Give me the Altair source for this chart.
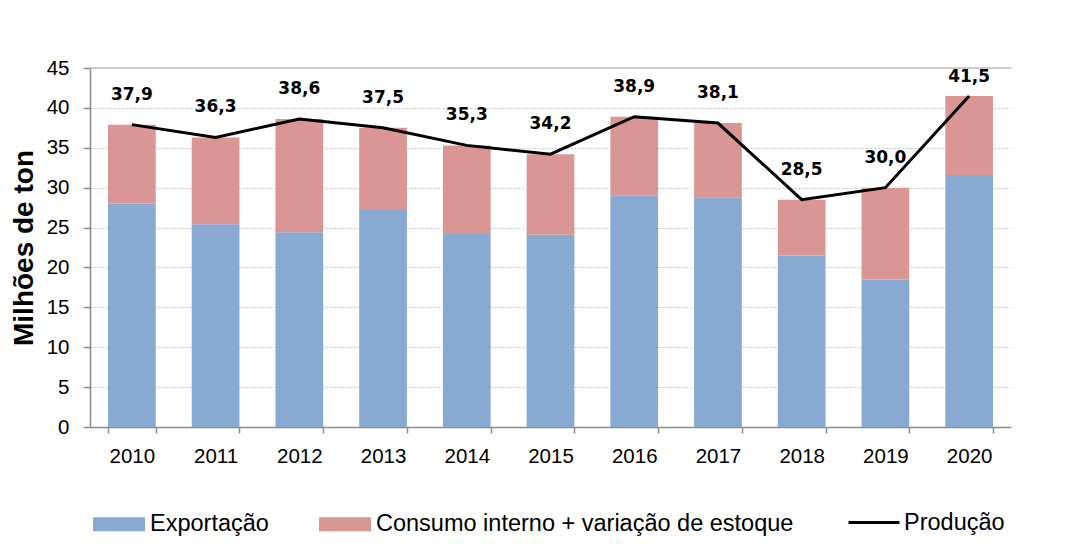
import altair as alt
import pandas as pd

anos = ["2010", "2011", "2012", "2013", "2014", "2015", "2016", "2017", "2018", "2019", "2020"]
exportacao = [28.0, 25.4, 24.4, 27.2, 24.2, 24.1, 29.0, 28.8, 21.5, 18.5, 31.6]
consumo = [9.9, 10.9, 14.2, 10.3, 11.1, 10.1, 9.9, 9.3, 7.0, 11.5, 9.9]
producao = [37.9, 36.3, 38.6, 37.5, 35.3, 34.2, 38.9, 38.1, 28.5, 30.0, 41.5]
series = ["Exportação", "Consumo interno + variação de estoque"]
serie_linha = "Produção"
y_ticks = [0, 5, 10, 15, 20, 25, 30, 35, 40, 45]
y_max = 45

rows = []
for i, a in enumerate(anos):
    rows.append({"ano": a, "serie": series[0], "valor": exportacao[i], "ordem": 0})
    rows.append({"ano": a, "serie": series[1], "valor": consumo[i], "ordem": 1})
bars_df = pd.DataFrame(rows)

line_df = pd.DataFrame({
    "ano": anos,
    "valor": producao,
    "serie_linha": [serie_linha] * len(anos),
    "rotulo": [f"{v:.1f}".replace(".", ",") for v in producao],
})

AX = "#8c8c8c"
FONT = "Liberation Sans"

x_enc = alt.X(
    "ano:N",
    sort=anos,
    scale=alt.Scale(paddingInner=0.43, paddingOuter=0.215),
    axis=alt.Axis(
        title=None, labelAngle=0, tickBand="extent", labelFont=FONT,
        labelFontSize=20.5, labelColor="#000000", labelPadding=13, tickSize=6,
        tickColor=AX, tickWidth=1.5, domainColor=AX, domainWidth=1.5, grid=False,
    ),
)

y_scale = alt.Scale(domain=[0, y_max], nice=False, zero=True)
y_axis = alt.Axis(
    values=y_ticks, tickCount=10, title="Milhões de ton", titleFont=FONT,
    titleFontSize=28, titleFontWeight="bold", titleColor="#000000",
    titlePadding=8, labelFont=FONT, labelFontSize=20.5, labelOverlap=False,
    labelColor="#000000", labelPadding=14, tickSize=7, tickColor=AX,
    tickWidth=1.5, domainColor=AX, domainWidth=1.5, grid=True,
    gridColor="#c4c4c4", gridDash=[2, 2], gridWidth=1,
)


def y_enc(stack=None):
    kw = {}
    if stack is not None:
        kw["stack"] = stack
    return alt.Y("valor:Q", scale=y_scale, axis=y_axis, title="Milhões de ton", **kw)


bars = alt.Chart(bars_df).mark_bar().encode(
    x=x_enc,
    y=y_enc("zero"),
    color=alt.Color(
        "serie:N",
        scale=alt.Scale(domain=series, range=["#88A9D1", "#D99694"]),
        legend=alt.Legend(
            title=None, orient="none", legendX=3, legendY=430,
            direction="horizontal",
            symbolType="M-1,-0.27L1,-0.27L1,0.27L-1,0.27Z",
            symbolSize=2704, symbolStrokeWidth=0, labelFont=FONT,
            labelFontSize=23.5, labelColor="#000000", labelOffset=5,
            columnPadding=50, labelLimit=700,
        ),
    ),
    order=alt.Order("ordem:Q", sort="ascending"),
)

top_rule = alt.Chart(pd.DataFrame({"k": [1]})).mark_rule(
    color="#bfbfbf", strokeWidth=1.5
).encode(y=alt.YDatum(y_max, type="quantitative", scale=y_scale, axis=y_axis, title="Milhões de ton"))

line = alt.Chart(line_df).mark_line(strokeWidth=3).encode(
    x=x_enc,
    y=y_enc(),
    stroke=alt.Stroke(
        "serie_linha:N",
        scale=alt.Scale(domain=[serie_linha], range=["#000000"]),
        legend=alt.Legend(
            title=None, orient="none", legendX=757, legendY=427.5,
            symbolType="stroke", symbolSize=2601, symbolStrokeWidth=3,
            labelFont=FONT, labelFontSize=23.5, labelColor="#000000",
            labelOffset=3, labelLimit=300,
        ),
    ),
)

labels = alt.Chart(line_df).mark_text(
    font="DejaVu Sans", fontSize=17, fontWeight="bold", color="#000000", dy=-30
).encode(x=x_enc, y=y_enc(), text="rotulo:N").transform_filter("datum.ano != '2020'")

label_last = alt.Chart(line_df).mark_text(
    font="DejaVu Sans", fontSize=17, fontWeight="bold", color="#000000", dy=-19
).encode(x=x_enc, y=y_enc(), text="rotulo:N").transform_filter("datum.ano == '2020'")

chart = alt.layer(bars, top_rule, line, labels, label_last).properties(
    width=921,
    height=359,
    padding={"left": 82, "top": 60, "right": 67, "bottom": 109},
    autosize=alt.AutoSizeParams(type="none"),
    background="white",
).configure_view(stroke=None)

chart.save("out.html", embed_options={"renderer": "svg", "actions": False})
